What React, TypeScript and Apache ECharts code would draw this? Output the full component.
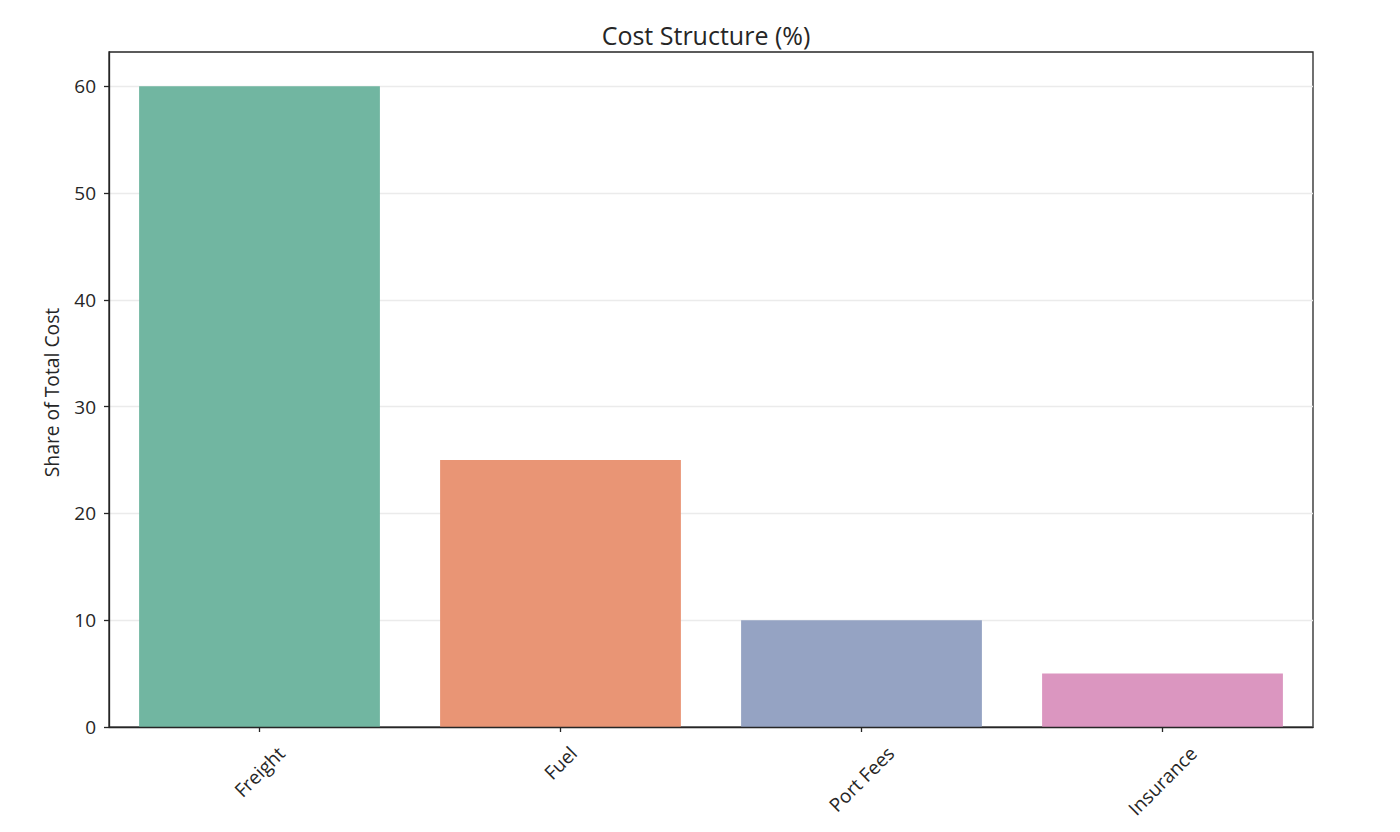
import React, { useEffect, useRef } from "react";
import * as echarts from "echarts";

const categories = ["Freight", "Fuel", "Port Fees", "Insurance"];
const shares = [60, 25, 10, 5];
const barColors = ["#71b6a1", "#e99575", "#95a3c3", "#db96c0"];
const yTicks = [0, 10, 20, 30, 40, 50, 60];
const yMax = 63.2;
const titleText = "Cost Structure (%)";
const yAxisName = "Share of Total Cost";

const FONT = '"Open Sans", "Noto Sans", sans-serif';
const LABEL_SIZE = 19;
const INK = "#262626";

function measure(text: string, size: number): number {
  const ctx = document.createElement("canvas").getContext("2d");
  if (!ctx) return text.length * size * 0.55;
  ctx.font = `${size}px "Open Sans"`;
  return ctx.measureText(text).width;
}

export default function App() {
  const ref = useRef<HTMLDivElement>(null);
  useEffect(() => {
    if (!ref.current) return;
    const chart = echarts.init(ref.current, null, { renderer: "svg" });
    chart.setOption({
      animation: false,
      backgroundColor: "#ffffff",
      title: {
        text: titleText,
        left: 701,
        textAlign: "center",
        top: 17,
        textStyle: { fontFamily: FONT, fontSize: 25, fontWeight: "normal", color: INK },
      },
      grid: {
        left: 109,
        right: 87,
        top: 52,
        bottom: 105,
        show: true,
        borderColor: INK,
        borderWidth: 1.3,
        outerBoundsMode: "none",
      },
      xAxis: {
        type: "category",
        data: categories,
        z: 5,
        axisLine: { show: true, lineStyle: { color: INK, width: 1.3 } },
        axisTick: { show: true, alignWithLabel: true, length: 5, lineStyle: { color: INK, width: 1.3 } },
        axisLabel: { show: false, interval: 0 },
        splitLine: { show: false },
      },
      yAxis: {
        type: "value",
        min: 0,
        max: yMax,
        interval: 10,
        name: yAxisName,
        nameLocation: "middle",
        nameGap: 48,
        nameTextStyle: { fontFamily: FONT, fontSize: 19.3, color: INK, padding: [0, 6, 0, 0] },
        axisLine: { show: true, lineStyle: { color: INK, width: 1.3 } },
        axisTick: { show: true, length: 5, customValues: yTicks, lineStyle: { color: INK, width: 1.3 } },
        axisLabel: {
          customValues: yTicks,
          margin: 13,
          fontSize: LABEL_SIZE,
          fontFamily: FONT,
          color: INK,
        },
        splitLine: { show: true, lineStyle: { color: "#ebebeb", width: 1.3 } },
      },
      series: [
        {
          type: "bar",
          data: shares.map((v, i) => ({ value: v, itemStyle: { color: barColors[i] } })),
          barCategoryGap: "20%",
        },
      ],
    });

    // Rotated category labels, centred under each tick (positions from the axis scales)
    const axisY = chart.convertToPixel({ yAxisIndex: 0 }, 0) as number;
    const labels = categories.map((c) => {
      const tickX = chart.convertToPixel({ xAxisIndex: 0 }, c) as number;
      const L = measure(c, LABEL_SIZE);
      const cy = axisY + 18 + (L + 14) * 0.3536;
      return {
        type: "text",
        x: tickX,
        y: cy,
        rotation: Math.PI / 4,
        z: 10,
        style: {
          text: c,
          font: `${LABEL_SIZE}px ${FONT}`,
          fill: INK,
          align: "center",
          verticalAlign: "middle",
          textAlign: "center",
          textVerticalAlign: "middle",
        },
      };
    });
    chart.setOption({ graphic: labels });

    return () => chart.dispose();
  }, []);
  return (
    <div
      ref={ref}
      style={{ position: "fixed", left: 0, top: 0, width: 1400, height: 832 }}
    />
  );
}
